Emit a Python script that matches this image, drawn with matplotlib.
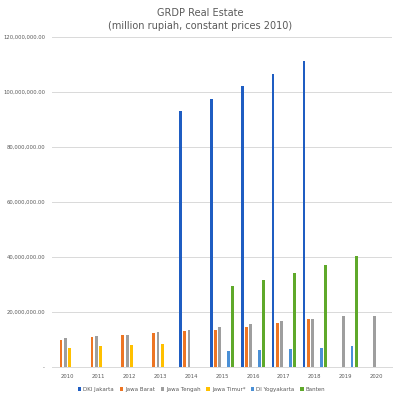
import numpy as np
import matplotlib
matplotlib.use('Agg')
import matplotlib.pyplot as plt
import matplotlib.ticker as ticker

# years on the x axis
years = ['2010', '2011', '2012', '2013', '2014', '2015', '2016', '2017', '2018', '2019', '2020']

# values, None = no bar
dki_jakarta = [None, None, None, None, 93200000, 97600000, 102200000, 106700000, 111400000, None, None]
jawa_barat = [9700000, 10900000, 11750000, 12350000, 12950000, 13600000, 14650000, 16000000, 17600000, None, None]
jawa_tengah = [10650000, 11100000, 11750000, 12700000, 13600000, 14650000, 15600000, 16700000, 17600000, 18500000, 18500000]
jawa_timur = [6800000, 7500000, 8000000, 8500000, None, None, None, None, None, None, None]
di_yogyakarta = [None, None, None, None, None, 5900000, 6300000, 6650000, 6900000, 7500000, None]
banten = [None, None, None, None, None, 29600000, 31750000, 34300000, 37100000, 40200000, None]

series_names = ['DKI Jakarta', 'Jawa Barat', 'Jawa Tengah', 'Jawa Timur*', 'DI Yogyakarta', 'Banten']
series_vals = [dki_jakarta, jawa_barat, jawa_tengah, jawa_timur, di_yogyakarta, banten]
colors = ['#1F5DC2', '#ED7523', '#9E9E9E', '#FFC000', '#4A90D6', '#5FA92A']

fig = plt.figure(figsize=(4, 4), dpi=100)
ax = fig.add_axes([0.13, 0.0825, 0.85, 0.825])

x = np.arange(len(years))
slot = 0.139
width = 0.09
for i, (name, vals) in enumerate(zip(series_names, series_vals)):
    v = np.array([np.nan if a is None else a for a in vals], dtype=float)
    ax.bar(x + (i - 2.5) * slot, v, width=width, color=colors[i], label=name, zorder=3)

ax.set_xlim(-0.5, len(years) - 0.5)
ax.set_ylim(0, 120000000)
ax.set_yticks(np.arange(0, 120000001, 20000000))

def fmt(v, _):
    if v == 0:
        return '-'
    return format(v, ',.2f')

ax.yaxis.set_major_formatter(ticker.FuncFormatter(fmt))
ax.set_xticks(x)
ax.set_xticklabels(years)
ax.tick_params(axis='both', length=0, labelsize=3.8, colors='#595959', pad=5)
ax.grid(axis='y', color='#D9D9D9', linewidth=0.7, zorder=0)
for s in ['top', 'right', 'left']:
    ax.spines[s].set_visible(False)
ax.spines['bottom'].set_color('#D9D9D9')
ax.spines['bottom'].set_linewidth(0.7)

fig.suptitle('GRDP Real Estate\n(million rupiah, constant prices 2010)', y=0.98,
             fontsize=7, color='#595959', linespacing=1.4)

leg = ax.legend(loc='upper center', bbox_to_anchor=(0.44, -0.045), ncol=6, frameon=False,
                fontsize=4.0, handlelength=0.6, handleheight=0.6, handletextpad=0.4,
                columnspacing=1.0)
for t in leg.get_texts():
    t.set_color('#595959')

fig.savefig('out.png', dpi=100)
